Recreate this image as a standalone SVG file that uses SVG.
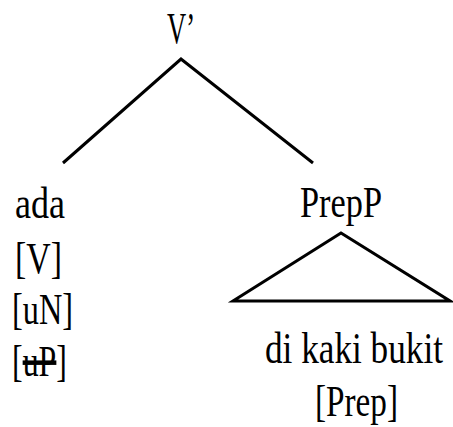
<svg xmlns="http://www.w3.org/2000/svg" width="453" height="427" viewBox="0 0 453 427">
<style>
text{font-family:"Liberation Serif","Times New Roman",serif;font-size:45px;fill:#000}
.ln{stroke:#000;stroke-width:3;fill:none;stroke-linecap:butt}
</style>
<rect width="453" height="427" fill="#fff"/>
<g id="connectors">
<polyline class="ln" points="63,163 181,59 313,163"/>
<polygon class="ln" points="341,233 233,301 450,301" stroke-linejoin="miter"/>
</g>
<g id="node-vbar"><text x="167" y="43" textLength="28" lengthAdjust="spacingAndGlyphs">V’</text></g>
<g id="node-ada">
<text x="15" y="218" textLength="50" lengthAdjust="spacingAndGlyphs">ada</text>
<text x="15" y="273" textLength="47" lengthAdjust="spacingAndGlyphs">[V]</text>
<text x="12" y="324" textLength="61" lengthAdjust="spacingAndGlyphs">[uN]</text>
<text x="12" y="376" textLength="55" lengthAdjust="spacingAndGlyphs">[<tspan text-decoration="line-through">uP</tspan>]</text>
</g>
<g id="node-prepp"><text x="300" y="217" textLength="82" lengthAdjust="spacingAndGlyphs">PrepP</text></g>
<g id="node-dikakibukit">
<text x="265" y="363" textLength="178" lengthAdjust="spacingAndGlyphs">di kaki bukit</text>
<text x="315" y="416" textLength="83" lengthAdjust="spacingAndGlyphs">[Prep]</text>
</g>
</svg>
